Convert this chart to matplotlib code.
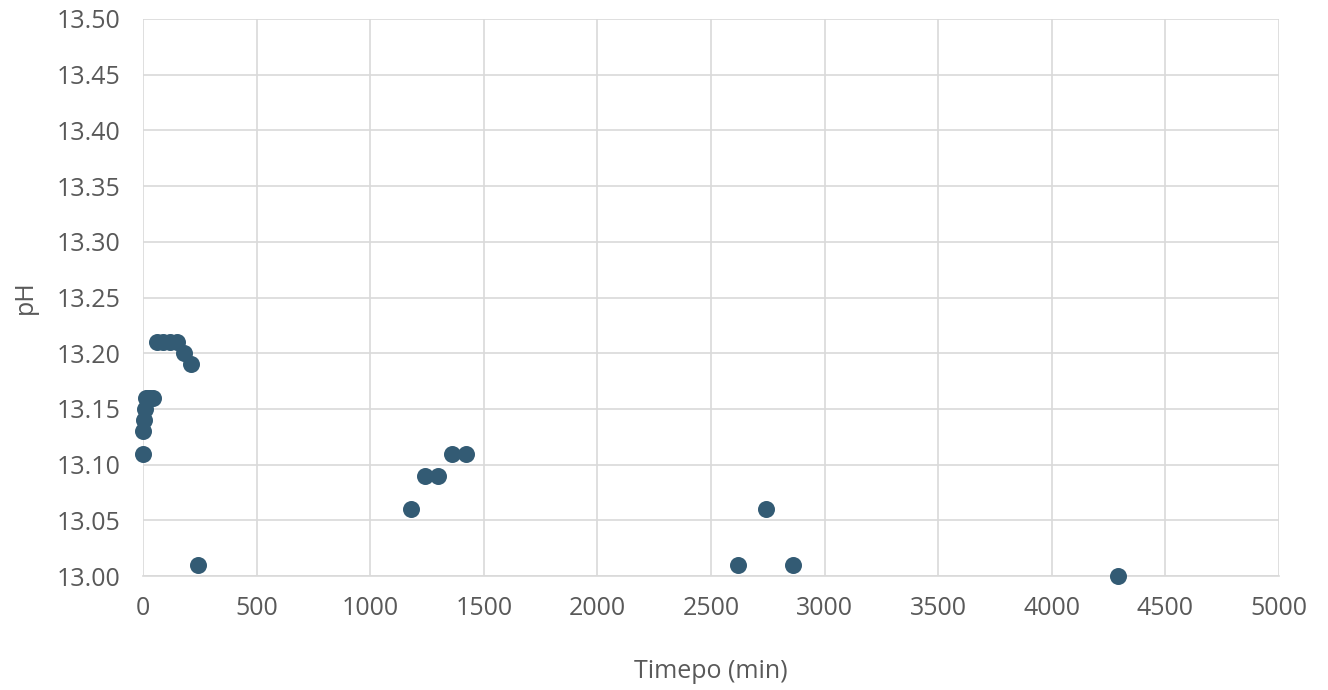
import matplotlib
matplotlib.use("Agg")
import matplotlib.pyplot as plt
from matplotlib.ticker import MultipleLocator, FormatStrFormatter

# data
tiempo = [0, 2, 5, 10, 15, 20, 30, 45, 60, 90, 120, 150, 180, 210, 240,
          1180, 1240, 1300, 1360, 1420, 2620, 2740, 2860, 4290]
ph = [13.11, 13.13, 13.14, 13.15, 13.16, 13.16, 13.16, 13.16, 13.21, 13.21, 13.21, 13.21, 13.20, 13.19, 13.01,
      13.06, 13.09, 13.09, 13.11, 13.11, 13.01, 13.06, 13.01, 13.00]

plt.rcParams['font.family'] = ['Open Sans', 'DejaVu Sans']
txt = '#595959'
grid = '#D9D9D9'

fig = plt.figure(figsize=(13.28, 6.9), dpi=100)
ax = fig.add_axes([0.1077, 0.165, 0.8554, 0.8075])

ax.scatter(tiempo, ph, s=150, color='#335B74', zorder=3, linewidths=0, clip_on=False)

ax.set_xlim(0, 5000)
ax.set_ylim(13.0, 13.5)
ax.xaxis.set_major_locator(MultipleLocator(500))
ax.yaxis.set_major_locator(MultipleLocator(0.05))
ax.yaxis.set_major_formatter(FormatStrFormatter('%.2f'))

ax.grid(True, color=grid, linewidth=1.2, zorder=0)
ax.set_axisbelow(True)
for s in ['top', 'right', 'left']:
    ax.spines[s].set_visible(False)
ax.spines['bottom'].set_color(grid)
ax.spines['bottom'].set_linewidth(1.2)

ax.tick_params(length=0, labelsize=18, labelcolor=txt)
ax.tick_params(axis='x', pad=14)
ax.tick_params(axis='y', pad=16)
ax.set_xlabel('Timepo (min)', fontsize=18, color=txt, labelpad=28)
ax.set_ylabel('pH', fontsize=18, color=txt, labelpad=14)

fig.savefig('out.png', dpi=100)
